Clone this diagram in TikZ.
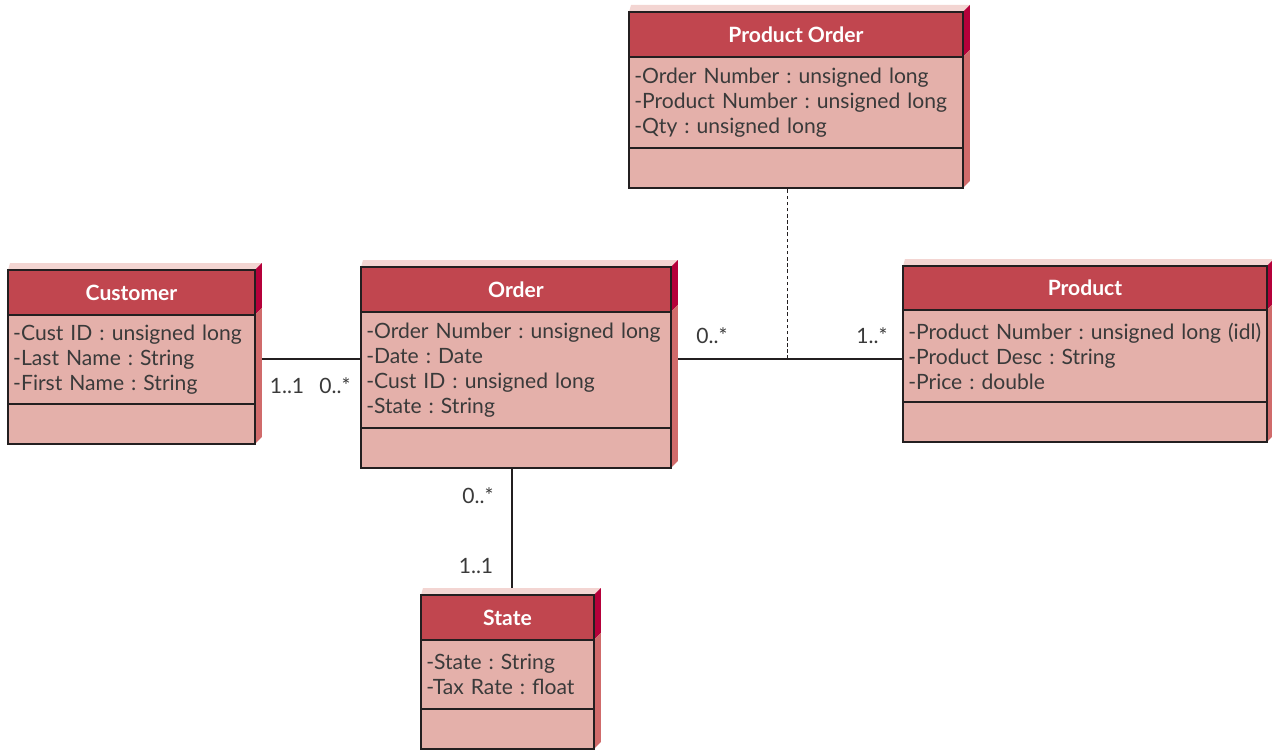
\documentclass[tikz,border=0pt]{standalone}
\usepackage{fontspec}
\setmainfont{Lato}
\usetikzlibrary{positioning,calc,backgrounds}

\definecolor{headred}{HTML}{C1464F}
\definecolor{bodypink}{HTML}{E4B0AA}
\definecolor{toppink}{HTML}{F3D5D2}
\definecolor{sidedark}{HTML}{B5003A}
\definecolor{sidered}{HTML}{D06B6B}
\definecolor{inkgray}{HTML}{3A3A3A}
\definecolor{edge}{HTML}{231F20}

\frenchspacing

\begin{document}
\begin{tikzpicture}[x=0.02cm, y=-0.02cm,
                    line width=1.4pt,
                    font=\fontsize{12}{14.2}\selectfont,
                    ]
    \tikzstyle{classname}=[draw=edge, fill=headred, text=white, outer sep=0pt,
                           minimum height=0.9cm, anchor=north west, font=\fontsize{12}{14.2}\selectfont\bfseries]
    \tikzstyle{attrs}=[draw=edge, fill=bodypink, text=inkgray, outer sep=0pt,
                       align=left, inner xsep=3pt, inner ysep=0pt]
    \tikzstyle{ops}=[draw=edge, fill=bodypink, outer sep=0pt, minimum height=0.8cm]
    \tikzstyle{mult}=[text=inkgray, inner sep=0pt]
    \tikzstyle{assoc}=[draw=edge, line width=1.4pt]

    \useasboundingbox (0,0) rectangle (1272,750);

    % Customer
    \node[classname, minimum width=4.94cm] (cust) at (8,270) {Customer};
    \node[attrs, below=0pt of cust, minimum width=4.94cm, text width=4.73cm, minimum height=1.78cm] (cust-attr)
        {-Cust ID : unsigned long\\-Last Name : String\\-First Name : String};
    \node[ops, below=0pt of cust-attr, minimum width=4.94cm] (cust-ops) {};

    % Order
    \node[classname, minimum width=6.2cm] (order) at (361,267) {Order};
    \node[attrs, below=0pt of order, minimum width=6.2cm, text width=5.99cm, minimum height=2.32cm] (order-attr)
        {-Order Number : unsigned long\\-Date : Date\\-Cust ID : unsigned long\\-State : String};
    \node[ops, below=0pt of order-attr, minimum width=6.2cm] (order-ops) {};

    % Product
    \node[classname, minimum width=7.28cm, minimum height=0.88cm] (prod) at (903,266) {Product};
    \node[attrs, below=0pt of prod, minimum width=7.28cm, text width=7.07cm, minimum height=1.84cm] (prod-attr)
        {-Product Number : unsigned long (idl)\\-Product Desc : String\\-Price : double};
    \node[ops, below=0pt of prod-attr, minimum width=7.28cm] (prod-ops) {};

    % Product Order
    \node[classname, minimum width=6.68cm] (porder) at (629,12) {Product Order};
    \node[attrs, below=0pt of porder, minimum width=6.68cm, text width=6.47cm, minimum height=1.82cm] (porder-attr)
        {-Order Number : unsigned long\\-Product Number : unsigned long\\-Qty : unsigned long};
    \node[ops, below=0pt of porder-attr, minimum width=6.68cm] (porder-ops) {};

    % State
    \node[classname, minimum width=3.46cm] (state) at (421,595) {State};
    \node[attrs, below=0pt of state, minimum width=3.46cm, text width=3.25cm, minimum height=1.38cm] (state-attr)
        {-State : String\\-Tax Rate : float};
    \node[ops, below=0pt of state-attr, minimum width=3.46cm] (state-ops) {};

    \coordinate (link) at (787,359);
    \coordinate (drop) at (512,530);

    \begin{scope}[on background layer]
        % associations
        \draw[assoc] (cust-attr.east |- link) -- (order-attr.west |- link);
        \draw[assoc] (order-attr.east |- link) -- (prod-attr.west |- link);
        \draw[assoc] (order-ops.south -| drop) -- (state.north -| drop);
        \draw[edge, line width=0.5pt, dash pattern=on 2pt off 1.5pt] (link) -- (link |- porder-ops.south);

        % 3d faces
        \foreach \n in {cust,order,prod,porder,state} {
            \fill[toppink] (\n.north west) -- ++(2,-7) -- ($(\n.north east)+(7,-7)$) -- (\n.north east) -- cycle;
            \fill[sidedark] (\n.north east) -- ++(7,-7) -- ($(\n.south east)+(7,-7)$) -- (\n.south east) -- cycle;
            \fill[sidered] (\n.south east) -- ++(7,-7) -- ($(\n-ops.south east)+(7,-7)$) -- (\n-ops.south east) -- cycle;
        }
    \end{scope}

    % multiplicities
    \node[mult] (m-cust) at (287,386) {1..1};
    \node[mult] (m-ordc) at (335,386) {0..*};
    \node[mult] (m-ordp) at (712,336) {0..*};
    \node[mult] (m-prod) at (872,336) {1..*};
    \node[mult] (m-ords) at (478,496) {0..*};
    \node[mult] (m-state) at (476,566) {1..1};
\end{tikzpicture}
\end{document}
